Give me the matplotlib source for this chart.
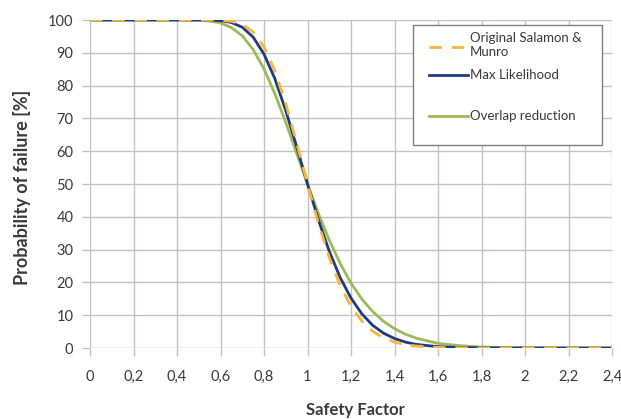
import matplotlib
matplotlib.use("Agg")
import matplotlib.pyplot as plt
from matplotlib.lines import Line2D
from matplotlib.patches import Rectangle

plt.rcParams['font.family'] = ['Lato', 'DejaVu Sans']

# Safety factor sample points
sf = [0.0, 0.45, 0.5, 0.55, 0.6, 0.65, 0.7, 0.75, 0.8, 0.85, 0.9, 0.95, 1.0,
      1.05, 1.1, 1.15, 1.2, 1.25, 1.3, 1.35, 1.4, 1.45, 1.5, 1.6, 1.7, 1.8,
      1.9, 2.0, 2.4]

# Probability of failure [%]
original = [100, 100, 100, 100, 99.9, 99.6, 98.7, 96.4, 91.8, 84.5, 74.5, 62.6, 50,
            38.0, 27.6, 19.1, 12.7, 8.2, 5.1, 3.0, 1.8, 1.0, 0.6, 0.16, 0.05, 0.0,
            0.0, 0.0, 0.0]
max_likelihood = [100, 100, 100, 100, 99.8, 99.25, 97.8, 94.8, 89.6, 82.1, 72.4, 61.4, 50,
                  39.1, 29.5, 21.5, 15.2, 10.4, 6.9, 4.5, 2.9, 1.8, 1.1, 0.4, 0.13, 0.05,
                  0.0, 0.0, 0.0]
overlap = [100, 100, 99.94, 99.7, 99.1, 97.7, 95.2, 91.0, 85.1, 77.5, 68.8, 59.4, 50,
           41.0, 32.9, 25.8, 19.8, 14.9, 11.1, 8.1, 5.9, 4.2, 3.0, 1.4, 0.7, 0.3,
           0.14, 0.06, 0.0]

labels = ['Original Salamon &\nMunro', 'Max Likelihood', 'Overlap reduction']
colors = ['#F6B73C', '#1F3A80', '#9BBB59']

xticks = [0, 0.2, 0.4, 0.6, 0.8, 1.0, 1.2, 1.4, 1.6, 1.8, 2.0, 2.2, 2.4]
xticklabels = ['0', '0,2', '0,4', '0,6', '0,8', '1', '1,2', '1,4', '1,6', '1,8', '2', '2,2', '2,4']
yticks = [0, 10, 20, 30, 40, 50, 60, 70, 80, 90, 100]

fig = plt.figure(figsize=(6.21, 4.19), dpi=100)
ax = fig.add_axes([90/621, 1 - 348/419, 522/621, 328/419])

grid_c = '#C9BFC0'
text_c = '#3A3A3A'

ax.plot(sf, overlap, color=colors[2], lw=2.0, zorder=3)
ax.plot(sf, max_likelihood, color=colors[1], lw=2.0, zorder=4)
ax.plot(sf, original, color=colors[0], lw=2.0, ls=(0, (4.5, 3.5)), zorder=5)

ax.set_xlim(0, 2.4)
ax.set_ylim(0, 100)
ax.set_xticks(xticks)
ax.set_xticklabels(xticklabels)
ax.set_yticks(yticks)
ax.grid(True, color=grid_c, lw=1.0)
ax.set_axisbelow(True)
for s in ax.spines.values():
    s.set_visible(False)
ax.tick_params(axis='both', colors=grid_c, labelcolor=text_c, labelsize=10.5, length=6, width=1)
ax.tick_params(axis='y', pad=6)
ax.tick_params(axis='x', pad=10)

fig.text(22/621, 1 - 187/419, 'Probability of failure [%]', rotation=90, ha='center', va='center',
         fontsize=13, fontweight='bold', color=text_c)
fig.text(355/621, 1 - 410/419, 'Safety Factor', ha='center', va='center',
         fontsize=12, fontweight='bold', color=text_c)

# legend box
fig.patches.append(Rectangle((413/621, 1 - 145/419), 189/621, 120/419, transform=fig.transFigure,
                             facecolor='white', edgecolor='#7F7F7F', lw=1.0, zorder=10))
hy = [47, 75, 116]
ty = [45, 75, 116]
styles = [(0, (4.5, 3.5)), '-', '-']
for i in range(3):
    fig.lines.append(Line2D([429/621, 468/621], [1 - hy[i]/419] * 2, transform=fig.transFigure,
                            color=colors[i], lw=2.0, ls=styles[i], zorder=11))
    fig.text(470/621, 1 - ty[i]/419, labels[i], ha='left', va='center', fontsize=9.5,
             color=text_c, zorder=12, linespacing=1.2)

fig.savefig('out.png', dpi=100)
